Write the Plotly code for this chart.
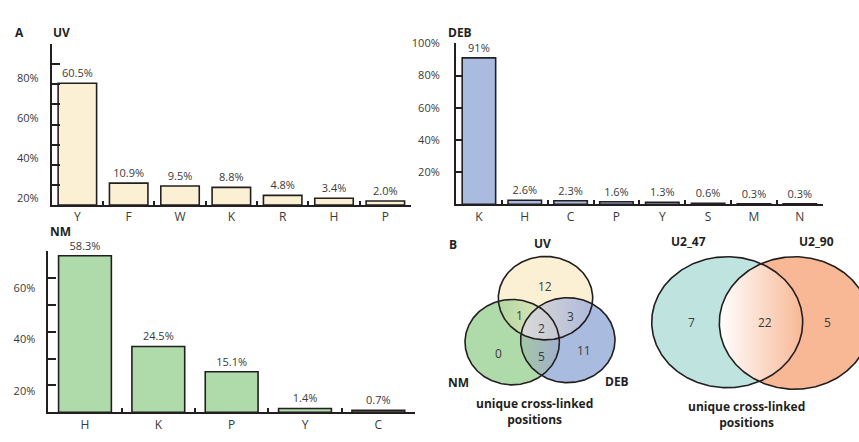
import numpy as np
import plotly.graph_objects as go

# ---------------- data ----------------
uv_cats = ["Y", "F", "W", "K", "R", "H", "P"]
uv_vals = [60.5, 10.9, 9.5, 8.8, 4.8, 3.4, 2.0]
uv_tickvals = [3.2, 23.2, 43.2, 63.2]
uv_ticktext = ["20%", "40%", "60%", "80%"]

deb_cats = ["K", "H", "C", "P", "Y", "S", "M", "N"]
deb_vals = [91, 2.6, 2.3, 1.6, 1.3, 0.6, 0.3, 0.3]
deb_tickvals = [20, 40, 60, 80, 100]
deb_ticktext = ["20%", "40%", "60%", "80%", "100%"]

nm_cats = ["H", "K", "P", "Y", "C"]
nm_vals = [58.3, 24.5, 15.1, 1.4, 0.7]
nm_tickvals = [7.7, 27.1, 46.4]
nm_ticktext = ["20%", "40%", "60%"]

venn3_sets = ["UV", "NM", "DEB"]
venn3_counts = {"UV": 12, "NM": 0, "DEB": 11, "UV&NM": 1, "UV&DEB": 3, "NM&DEB": 5, "all": 2}
venn2_sets = ["U2_47", "U2_90"]
venn2_counts = {"U2_47": 7, "both": 22, "U2_90": 5}
venn_caption = "unique cross-linked<br>positions"

# ---------------- styling ----------------
W, H = 859, 442
FONT = "Open Sans"
INK = "#231F20"
TXT = "#3a3a3a"
C_UV, C_DEB, C_NM = "#FCF0D4", "#AABBE0", "#AFDBAA"
C_T, C_S = "#BFE4E0", "#F8B896"


def px(x):
    return x / W


def py(y):
    return 1 - y / H


fig = go.Figure()


def bar_trace(cats, vals, color, fmt, width, ax):
    return go.Bar(
        x=cats, y=vals, text=[fmt(v) for v in vals], textposition="outside",
        textfont=dict(size=11, color=TXT, family=FONT), cliponaxis=False,
        marker=dict(color=color, line=dict(color=INK, width=1.6)), width=width,
        xaxis="x" + ax, yaxis="y" + ax, showlegend=False, hoverinfo="skip",
    )


fig.add_trace(bar_trace(uv_cats, uv_vals, C_UV, lambda v: f"{v:.1f}%", 0.75, ""))
fig.add_trace(bar_trace(deb_cats, deb_vals, C_DEB, lambda v: f"{v:g}%", 0.73, "2"))
fig.add_trace(bar_trace(nm_cats, nm_vals, C_NM, lambda v: f"{v:.1f}%", 0.72, "3"))

# invisible carriers for the (offset) label axes
for cats, vals, xa, ya in [(uv_cats, uv_vals, "x", "y5"), (nm_cats, nm_vals, "x3", "y6")]:
    fig.add_trace(go.Scatter(x=cats, y=vals, xaxis=xa, yaxis=ya, mode="markers",
                             marker=dict(opacity=0), showlegend=False, hoverinfo="skip"))


def xax(n, domain, anchor):
    return dict(domain=domain, anchor=anchor, type="category", range=[-0.5, n - 0.5],
                showline=True, linewidth=2, linecolor=INK, ticks="inside", ticklen=4,
                tickwidth=2, tickcolor=INK, tickson="boundaries", showgrid=False,
                tickfont=dict(size=12, color=TXT, family=FONT), fixedrange=True)


def yax_marks(domain, anchor, top):
    return dict(domain=domain, anchor=anchor, range=[0, top], showline=True, linewidth=2,
                linecolor=INK, tickmode="linear", tick0=0, dtick=10, ticks="inside",
                ticklen=8, tickwidth=2, tickcolor=INK, showticklabels=False,
                showgrid=False, zeroline=False, fixedrange=True)


def yax_labels(over, anchor, top, tv, tt):
    return dict(overlaying=over, anchor=anchor, side="left", range=[0, top],
                showline=False, tickmode="array", tickvals=tv, ticktext=tt, ticks="",
                showgrid=False, zeroline=False, ticklabelstandoff=12,
                tickfont=dict(size=11, color=TXT, family=FONT), fixedrange=True)


fig.update_layout(
    xaxis=xax(len(uv_cats), [px(51.7), px(411)], "y"),
    yaxis=yax_marks([py(200.7), py(36.7)], "x", 80),
    yaxis5=yax_labels("y", "x", 80, uv_tickvals, uv_ticktext),
    xaxis2=xax(len(deb_cats), [px(456), px(822.7)], "y2"),
    yaxis2=dict(domain=[py(200), py(36)], anchor="x2", range=[0, 100], showline=True,
                linewidth=2, linecolor=INK, tickmode="array", tickvals=deb_tickvals,
                ticktext=deb_ticktext, ticks="inside", ticklen=6, tickwidth=2, tickcolor=INK,
                showgrid=False, zeroline=False, ticklabelstandoff=12,
                tickfont=dict(size=11, color=TXT, family=FONT), fixedrange=True),
    xaxis3=xax(len(nm_cats), [px(48.3), px(415)], "y3"),
    yaxis3=yax_marks([py(411.7), py(247.7)], "x3", 60),
    yaxis6=yax_labels("y3", "x3", 60, nm_tickvals, nm_ticktext),
    xaxis4=dict(domain=[px(440), 1], anchor="y4", range=[440, 859], visible=False,
                fixedrange=True),
    yaxis4=dict(domain=[0, py(225)], anchor="x4", range=[442, 225], visible=False,
                fixedrange=True),
)

# ---------------- Venn diagrams ----------------
E_UV = (545.5, 295.5, 47.2, 42.5)
E_NM = (512.2, 340.3, 47.2, 43.5)
E_DEB = (567.8, 338.3, 47.2, 43.3)
E_A = (727.2, 320.0, 75.5, 66.7)
E_B = (794.8, 320.8, 75.5, 67.5)


def ellipse(e, n=361):
    cx, cy, rx, ry = e
    t = np.linspace(0, 2 * np.pi, n)
    return cx + rx * np.cos(t), cy + ry * np.sin(t)


def inside(x, y, e):
    cx, cy, rx, ry = e
    return ((x - cx) / rx) ** 2 + ((y - cy) / ry) ** 2 <= 1.0 + 1e-9


def intersect(*es):
    xs, ys = [], []
    for i, e in enumerate(es):
        x, y = ellipse(e, 3000)
        m = np.ones_like(x, dtype=bool)
        for j, f in enumerate(es):
            if j != i:
                m &= inside(x, y, f)
        xs.append(x[m])
        ys.append(y[m])
    x = np.concatenate(xs)
    y = np.concatenate(ys)
    cx, cy = x.mean(), y.mean()
    o = np.argsort(np.arctan2(y - cy, x - cx))
    x, y = x[o], y[o]
    return np.append(x, x[0]), np.append(y, y[0])


def fill_trace(x, y, color=None, grad=None):
    kw = dict(x=x, y=y, mode="lines", fill="toself", line=dict(width=0),
              xaxis="x4", yaxis="y4", showlegend=False, hoverinfo="skip")
    if grad:
        kw["fillgradient"] = dict(type="horizontal", colorscale=[[0, grad[0]], [1, grad[1]]])
        kw["fillcolor"] = grad[1]
    else:
        kw["fillcolor"] = color
    return go.Scatter(**kw)


def outline_trace(e):
    x, y = ellipse(e)
    return go.Scatter(x=x, y=y, mode="lines", line=dict(color=INK, width=1.6),
                      xaxis="x4", yaxis="y4", showlegend=False, hoverinfo="skip")


for e, c in [(E_UV, C_UV), (E_NM, C_NM), (E_DEB, C_DEB), (E_A, C_T), (E_B, C_S)]:
    x, y = ellipse(e)
    fig.add_trace(fill_trace(x, y, color=c))

x, y = intersect(E_UV, E_NM)
fig.add_trace(fill_trace(x, y, grad=("#B3D6A0", "#ECEBC6")))
x, y = intersect(E_UV, E_DEB)
fig.add_trace(fill_trace(x, y, grad=("#DEDBD2", "#AEB9DC")))
x, y = intersect(E_NM, E_DEB)
fig.add_trace(fill_trace(x, y, grad=("#A3C7A4", "#A2AFCF")))
x, y = intersect(E_UV, E_NM, E_DEB)
fig.add_trace(fill_trace(x, y, grad=("#DADADA", "#C7C9D3")))
x, y = intersect(E_A, E_B)
fig.add_trace(fill_trace(x, y, grad=("#FFFFFF", "#F8B896")))

for e in [E_UV, E_NM, E_DEB, E_A, E_B]:
    fig.add_trace(outline_trace(e))

ann = []


def vtext(x, y, t, size=12, bold=False, color=TXT):
    ann.append(dict(x=x, y=y, xref="x4", yref="y4", text=f"<b>{t}</b>" if bold else str(t),
                    showarrow=False, xanchor="center", yanchor="middle",
                    font=dict(size=size, color=color, family=FONT)))


vtext(545, 283.3, venn3_counts["UV"])
vtext(519.3, 313.3, venn3_counts["UV&NM"])
vtext(570.7, 314, venn3_counts["UV&DEB"])
vtext(541, 326, venn3_counts["all"])
vtext(498.3, 351.7, venn3_counts["NM"])
vtext(541, 355, venn3_counts["NM&DEB"])
vtext(584, 349.3, venn3_counts["DEB"])
vtext(542.7, 240, venn3_sets[0], bold=True, color=INK)
vtext(458.3, 381, venn3_sets[1], bold=True, color=INK)
vtext(616.7, 380.7, venn3_sets[2], bold=True, color=INK)
vtext(534.3, 410.5, venn_caption, bold=True, color=INK)
vtext(691.7, 320, venn2_counts["U2_47"])
vtext(765, 320, venn2_counts["both"])
vtext(827.3, 320, venn2_counts["U2_90"])
vtext(688.3, 238.3, venn2_sets[0], bold=True, color=INK)
vtext(816.7, 238.3, venn2_sets[1], bold=True, color=INK)
vtext(746.7, 414.5, venn_caption, bold=True, color=INK)


def ptext(x, y, t):
    ann.append(dict(x=px(x), y=py(y), xref="paper", yref="paper", text=f"<b>{t}</b>",
                    showarrow=False, xanchor="left", yanchor="middle",
                    font=dict(size=12, color=INK, family=FONT)))


ptext(13, 25, "A")
ptext(51, 25, "UV")
ptext(446, 25, "DEB")
ptext(48, 228, "NM")
ptext(447, 240.7, "B")

fig.update_layout(
    width=W, height=H, margin=dict(l=0, r=0, t=0, b=0),
    paper_bgcolor="white", plot_bgcolor="rgba(0,0,0,0)",
    font=dict(family=FONT, color=TXT), annotations=ann, showlegend=False,
    bargap=0.25,
)

fig.write_html("out.html", config={"displayModeBar": False},
               post_script="document.body.style.margin='0';")
